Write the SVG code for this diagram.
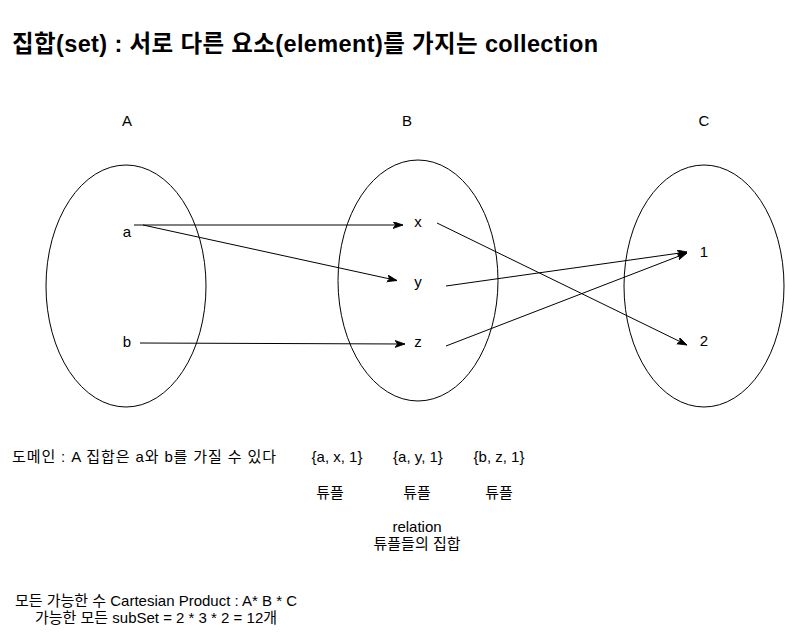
<svg xmlns="http://www.w3.org/2000/svg" width="785" height="635" viewBox="0 0 785 635">
  <style>
    .t { font-family: "Liberation Sans", Arial, "Noto Sans CJK KR", sans-serif; font-size: 15px; fill: #000; }
    .c { text-anchor: middle; }
    .title { font-family: "Liberation Sans", Arial, "Noto Sans CJK KR", sans-serif; font-size: 23.5px; font-weight: bold; fill: #000; }
    .set { fill: none; stroke: #000; stroke-width: 1; }
    .edge { fill: none; stroke: #000; stroke-width: 1; marker-end: url(#arrow); }
  </style>
  <defs>
    <marker id="arrow" markerUnits="userSpaceOnUse" markerWidth="11" markerHeight="8" refX="10" refY="3.5" orient="auto">
      <path d="M0,0 L10,3.5 L0,7 L2.5,3.5 Z" fill="#000" stroke="#000" stroke-width="0.8"/>
    </marker>
  </defs>
  <rect width="785" height="635" fill="#fff"/>

  <text class="title" x="12" y="52" textLength="586" lengthAdjust="spacing">집합(set) : 서로 다른 요소(element)를 가지는 collection</text>

  <g id="set-A">
    <ellipse class="set" cx="126" cy="286" rx="80" ry="121"/>
    <text class="t c" x="127" y="126">A</text>
  </g>
  <g id="set-B">
    <ellipse class="set" cx="418" cy="280.5" rx="80" ry="120.5"/>
    <text class="t c" x="407" y="126">B</text>
  </g>
  <g id="set-C">
    <ellipse class="set" cx="704" cy="286" rx="80" ry="121"/>
    <text class="t c" x="704" y="126">C</text>
  </g>

  <g id="node-a"><text class="t c" x="127" y="237">a</text></g>
  <g id="node-b"><text class="t c" x="127" y="347">b</text></g>
  <g id="node-x"><text class="t c" x="418" y="227">x</text></g>
  <g id="node-y"><text class="t c" x="418" y="287">y</text></g>
  <g id="node-z"><text class="t c" x="418" y="347">z</text></g>
  <g id="node-1"><text class="t c" x="704" y="257">1</text></g>
  <g id="node-2"><text class="t c" x="704" y="346">2</text></g>

  <g id="connectors">
    <line class="edge" x1="134" y1="225" x2="403" y2="225"/>
    <line class="edge" x1="143" y1="225" x2="397" y2="280.5"/>
    <line class="edge" x1="140" y1="343" x2="405" y2="344"/>
    <line class="edge" x1="437" y1="223" x2="687" y2="345"/>
    <line class="edge" x1="446" y1="286" x2="687" y2="252"/>
    <line class="edge" x1="446" y1="346" x2="687" y2="253"/>
  </g>

  <g id="notes">
    <text class="t" x="12" y="462" textLength="264" lengthAdjust="spacing">도메인 : A 집합은 a와 b를 가질 수 있다</text>
    <text class="t c" x="337" y="462">{a, x, 1}</text>
    <text class="t c" x="418" y="462">{a, y, 1}</text>
    <text class="t c" x="499" y="462">{b, z, 1}</text>
    <text class="t c" x="330" y="498">튜플</text>
    <text class="t c" x="417" y="498">튜플</text>
    <text class="t c" x="499" y="498">튜플</text>
    <text class="t c" x="417" y="532">relation</text>
    <text class="t c" x="417" y="549">튜플들의 집합</text>
    <text class="t c" x="156" y="606">모든 가능한 수 Cartesian Product : A* B * C</text>
    <text class="t c" x="156" y="623">가능한 모든 subSet = 2 * 3 * 2 = 12개</text>
  </g>
</svg>
